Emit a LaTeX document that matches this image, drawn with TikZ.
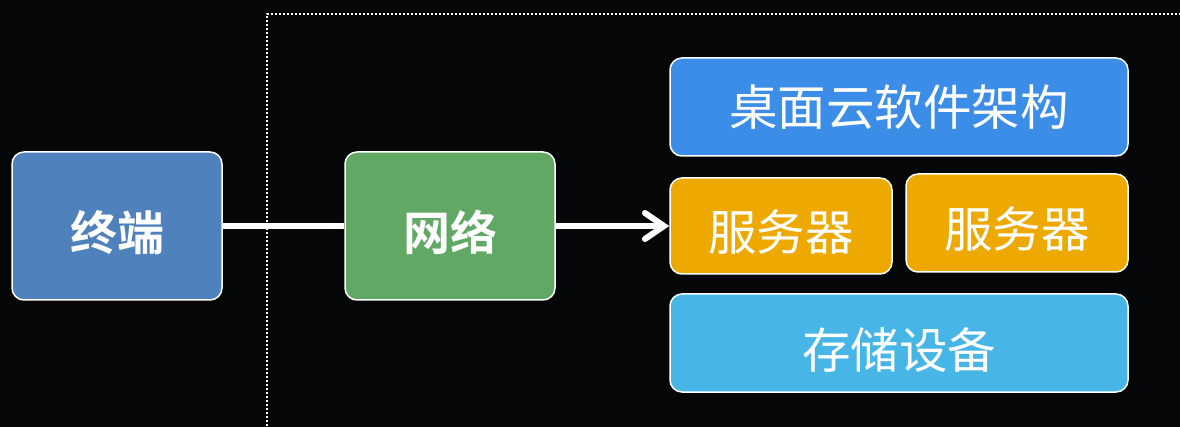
\documentclass[tikz,border=0pt]{standalone}
\usepackage{fontspec}
\setmainfont{Noto Sans CJK SC}
\newfontfamily\cjkb{Noto Sans CJK SC}[BoldFont={Noto Sans CJK SC Bold}]
\usetikzlibrary{arrows.meta}
\definecolor{bg}{HTML}{050608}
\definecolor{cterm}{HTML}{4F81BD}
\definecolor{cnet}{HTML}{62A865}
\definecolor{cdesk}{HTML}{3C8DE8}
\definecolor{csrv}{HTML}{EDA900}
\definecolor{cstore}{HTML}{47B6E6}
\begin{document}
\begin{tikzpicture}[x=1pt,y=-1pt,
  box/.style={draw=white,line width=1.5pt,rounded corners=12pt,text=white,inner sep=0pt},
  bigbold/.style={font=\cjkb\bfseries\fontsize{47}{47}\selectfont},
  big/.style={font=\fontsize{48.5}{48.5}\selectfont},
  low/.style={text height=50pt,text depth=0pt},
  link/.style={draw=white,line width=6pt},
]
\fill[bg] (0,0) rectangle (1180,427);
\useasboundingbox (0,0) rectangle (1180,427);
\draw[white,line width=2pt,dash pattern=on 2pt off 2pt] (267,430) -- (267,14) -- (1185,14);
\node[box,fill=cterm,minimum width=210pt,minimum height=148pt,bigbold,low] (term) at (117,226) {终端};
\node[box,fill=cnet,minimum width=210pt,minimum height=148pt,bigbold,low] (net) at (450,226) {网络};
\node[box,fill=cdesk,minimum width=458pt,minimum height=98pt,big] (desk) at (899,107) {桌面云软件架构};
\node[box,fill=csrv,minimum width=222pt,minimum height=96pt,big,low] (srv1) at (781,226) {服务器};
\node[box,fill=csrv,minimum width=222pt,minimum height=98pt,big,low] (srv2) at (1017,223) {服务器};
\node[box,fill=cstore,minimum width=458pt,minimum height=98pt,big,low] (store) at (899,343) {存储设备};
\draw[link] (term.east) -- (net.west);
\draw[link,-{Straight Barb[length=19pt,width=26pt,line cap=round]}] (net.east) -- (srv1.west);
\end{tikzpicture}
\end{document}
